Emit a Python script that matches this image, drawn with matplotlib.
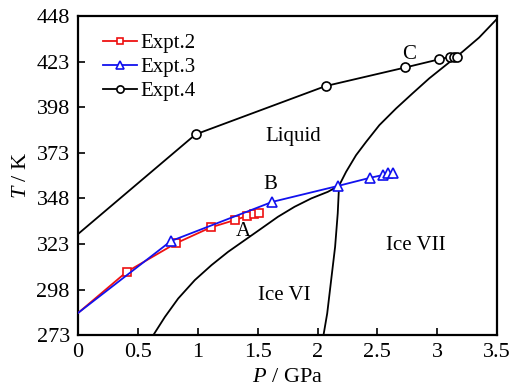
import matplotlib

matplotlib.use("Agg")
import matplotlib.pyplot as plt

plt.rcParams.update({
    "font.family": ["Liberation Serif", "DejaVu Serif"],
    "mathtext.fontset": "custom",
    "mathtext.it": "Liberation Serif:italic",
    "mathtext.rm": "Liberation Serif",
})

# Expt.2 (red squares); the first point (P = 0) carries no marker
p_expt2 = [0.0, 0.405, 0.814, 1.108, 1.308, 1.414, 1.467, 1.511]
t_expt2 = [285.2, 307.7, 323.3, 332.1, 336.1, 338.4, 339.6, 339.9]

# Expt.3 (blue triangles)
p_expt3 = [0.0, 0.775, 1.622, 2.175, 2.439, 2.544, 2.586, 2.628]
t_expt3 = [285.2, 324.6, 346.1, 354.9, 359.3, 360.8, 361.8, 362.0]

# Expt.4 (black circles)
p_expt4 = [0.0, 0.981, 2.067, 2.733, 3.011, 3.106, 3.142, 3.169]
t_expt4 = [328.5, 383.1, 409.6, 419.8, 424.2, 425.6, 425.6, 425.6]

# phase boundaries
p_melt_vi = [0.628, 0.725, 0.836, 0.975, 1.114, 1.253, 1.392, 1.531,
             1.669, 1.808, 1.948, 2.086, 2.18]
t_melt_vi = [273.0, 283.0, 293.1, 303.2, 311.4, 318.7, 325.1, 331.5,
             337.9, 343.4, 348.0, 351.6, 355.0]
p_melt_vii = [2.18, 2.239, 2.322, 2.406, 2.517, 2.656, 2.794, 2.933,
              3.072, 3.211, 3.35, 3.5]
t_melt_vii = [355.0, 362.6, 371.7, 379.0, 388.2, 397.3, 405.6, 413.8,
              421.1, 428.4, 436.2, 446.5]
p_vi_vii = [2.05, 2.081, 2.114, 2.147, 2.169, 2.18]
t_vi_vii = [273.0, 284.9, 303.2, 321.4, 339.8, 355.0]

x_ticks = [0, 0.5, 1, 1.5, 2, 2.5, 3, 3.5]
x_labels = ["0", "0.5", "1", "1.5", "2", "2.5", "3", "3.5"]
y_ticks = [273, 298, 323, 348, 373, 398, 423, 448]

RED = "#ee1111"
BLUE = "#1111ee"

fig = plt.figure(figsize=(5.14, 3.92), dpi=100)
ax = fig.add_axes([0.152, 0.145, 0.815, 0.814])

for px, ty in ((p_melt_vi, t_melt_vi), (p_melt_vii, t_melt_vii), (p_vi_vii, t_vi_vii)):
    ax.plot(px, ty, color="black", lw=1.3, zorder=2, solid_joinstyle="round")

ax.plot(p_expt2, t_expt2, color=RED, lw=1.3, marker="s", ms=6, mfc="white",
        mec=RED, mew=1.2, markevery=list(range(1, len(p_expt2))), label="Expt.2", zorder=3)
ax.plot(p_expt3, t_expt3, color=BLUE, lw=1.3, marker="^", ms=6.5, mfc="white",
        mec=BLUE, mew=1.2, markevery=list(range(1, len(p_expt3))), label="Expt.3", zorder=4)
ax.plot(p_expt4, t_expt4, color="black", lw=1.3, marker="o", ms=6.5, mfc="white",
        mec="black", mew=1.2, markevery=list(range(1, len(p_expt4))), label="Expt.4", zorder=4)

ax.text(1.794, 381.8, "Liquid", fontsize=15, ha="center", va="center")
ax.text(1.606, 355.8, "B", fontsize=15, ha="center", va="center")
ax.text(1.383, 330.0, "A", fontsize=15, ha="center", va="center")
ax.text(2.767, 427.0, "C", fontsize=15, ha="center", va="center")
ax.text(2.822, 322.4, "Ice VII", fontsize=15, ha="center", va="center")
ax.text(1.725, 295.0, "Ice VI", fontsize=15, ha="center", va="center")

ax.set_xlim(0, 3.5)
ax.set_ylim(273, 448)
ax.set_xticks(x_ticks)
ax.set_xticklabels(x_labels)
ax.set_yticks(y_ticks)
ax.tick_params(direction="in", length=5, width=1.2, labelsize=16, pad=6)
for s in ax.spines.values():
    s.set_linewidth(1.6)

ax.set_xlabel(r"$P$ / GPa", fontsize=16, labelpad=4)
ax.set_ylabel(r"$T$ / K", fontsize=16, labelpad=4)

ax.legend(loc="upper left", bbox_to_anchor=(0.025, 0.99), frameon=False, fontsize=15,
          handlelength=1.6, handletextpad=0.2, labelspacing=0.2, borderpad=0.2,
          markerscale=0.8)

fig.savefig("out.png", dpi=100)
